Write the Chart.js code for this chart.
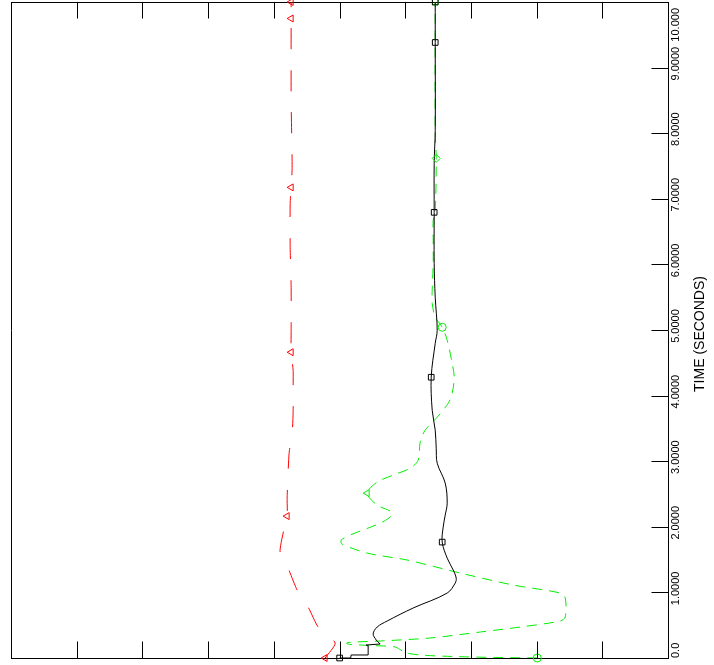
<!DOCTYPE html>
<html>
<head>
<meta charset="utf-8">
<script src="https://cdn.jsdelivr.net/npm/chart.js@4"></script>
<style>
  html, body { margin: 0; padding: 0; background: #fff; }
  canvas { display: block; }
</style>
</head>
<body>
<canvas id="chart" width="714" height="665"></canvas>
<script>
// ── Eixos ─────────────────────────────────────────────────────
const timeTicks      = [0, 1, 2, 3, 4, 5, 6, 7, 8, 9, 10];
const timeTickLabels = ['0.0', '1.0000', '2.0000', '3.0000', '4.0000', '5.0000',
                        '6.0000', '7.0000', '8.0000', '9.0000', '10.000'];
const valueTicks     = [1, 2, 3, 4, 5, 6, 7, 8, 9];
const axisTitle      = 'TIME (SECONDS)';

// ── Série preta (linha contínua): degraus iniciais + curva ────
const blackStepTime  = [0, 0, 0.046, 0.046, 0.183, 0.198, 0.213, 0.274];
const blackStepValue = [5.002, 5.170, 5.177, 5.436, 5.436, 5.406, 5.619, 5.558];
const blackTime  = [0.274, 0.366, 0.472, 0.564, 0.762, 0.990, 1.142, 1.219, 1.340, 1.523, 1.767,
                    1.995, 2.178, 2.361, 2.666, 2.970, 3.199, 3.473, 3.778, 4.280, 4.798, 4.996,
                    5.499, 6.017, 6.794, 7.540, 8.043, 9.383, 10.0];
const blackValue = [5.558, 5.512, 5.573, 5.726, 6.121, 6.639, 6.761, 6.776, 6.731, 6.639, 6.563,
                    6.578, 6.609, 6.639, 6.609, 6.487, 6.472, 6.457, 6.411, 6.396, 6.457, 6.487,
                    6.457, 6.441, 6.441, 6.441, 6.457, 6.457, 6.457];
const blackMarkTime  = [0, 1.767, 4.280, 6.794, 9.383, 10.0];
const blackMarkValue = [5.002, 6.563, 6.396, 6.441, 6.457, 6.457];

// ── Série verde (tracejado curto) ─────────────────────────────
const greenTime  = [0, 0.008, 0.023, 0.046, 0.084, 0.168, 0.190, 0.213, 0.236, 0.259, 0.305, 0.396,
                    0.472, 0.564, 0.625, 0.914, 0.990, 1.112, 1.295, 1.493, 1.599, 1.736, 1.797,
                    1.874, 2.056, 2.178, 2.239, 2.331, 2.513, 2.681, 2.788, 2.894, 3.016, 3.290,
                    3.473, 3.671, 3.884, 4.037, 4.280, 4.493, 4.844, 5.042, 5.194, 5.408, 5.606,
                    6.017, 6.367, 6.672, 6.794, 7.616, 8.043, 10.0];
const greenValue = [8.010, 7.370, 6.731, 6.228, 6.000, 5.847, 5.467, 5.117, 5.117, 5.619, 6.380, 7.142,
                    7.751, 8.360, 8.436, 8.436, 8.360, 7.644, 6.837, 6.030, 5.421, 5.040, 5.025,
                    5.162, 5.619, 5.802, 5.771, 5.573, 5.421, 5.573, 5.817, 6.076, 6.198, 6.228,
                    6.304, 6.487, 6.655, 6.715, 6.746, 6.715, 6.639, 6.563, 6.457, 6.411, 6.411,
                    6.426, 6.426, 6.426, 6.457, 6.472, 6.457, 6.457];
const greenMarkTime  = [0, 2.513, 5.042, 7.616, 10.0];
const greenMarkValue = [8.010, 5.421, 6.563, 6.472, 6.457];
const greenMarkStyle = ['circle', 'triangle', 'circle', 'rectRot', 'rect'];
const greenMarkRot   = [0, -90, 0, 0, 0];

// ── Série vermelha (tracejado longo) ──────────────────────────
const redTime  = [0, 0.228, 0.472, 0.777, 1.036, 1.371, 1.615, 1.904, 2.163, 2.452, 3.123, 3.427,
                  3.732, 4.082, 4.387, 4.661, 4.996, 5.651, 6.260, 6.931, 7.174, 7.479, 8.500,
                  9.749, 10.0];
const redValue = [4.781, 4.934, 4.675, 4.523, 4.355, 4.218, 4.096, 4.142, 4.203, 4.203, 4.233, 4.279,
                  4.294, 4.294, 4.294, 4.264, 4.264, 4.264, 4.249, 4.249, 4.264, 4.279, 4.264,
                  4.264, 4.264];
const redMarkTime  = [0, 2.163, 4.661, 7.174, 9.749, 10.0];
const redMarkValue = [4.781, 4.203, 4.264, 4.264, 4.264, 4.264];

const TICK_LEN = 16.5;

function toPoints(times, values) {
  return times.map((t, i) => ({ x: values[i], y: t }));
}

function lineSet(times, values, color, dash, tension) {
  return {
    data: toPoints(times, values), showLine: true, borderColor: color, borderWidth: 1,
    borderDash: dash, pointRadius: 0, tension: tension || 0, fill: false
  };
}

function markSet(times, values, color, style, rot, fillColor) {
  return {
    data: toPoints(times, values), showLine: false, clip: false,
    pointStyle: style, pointRotation: rot, pointRadius: 4,
    pointBorderColor: color, pointBackgroundColor: fillColor || 'rgba(0,0,0,0)', pointBorderWidth: 1
  };
}

// ── Marcas internas, rótulos girados e título do eixo ─────────
const axisDecor = {
  id: 'axisDecor',
  afterDraw(chart) {
    const { ctx, chartArea: a, scales: { x, y } } = chart;
    ctx.save();
    ctx.strokeStyle = '#000';
    ctx.lineWidth = 1;
    ctx.beginPath();
    valueTicks.forEach(v => {
      const px = Math.round(x.getPixelForValue(v)) + 0.5;
      ctx.moveTo(px, a.bottom); ctx.lineTo(px, a.bottom - TICK_LEN);
      ctx.moveTo(px, a.top);    ctx.lineTo(px, a.top + TICK_LEN);
    });
    timeTicks.slice(1, -1).forEach(t => {
      const py = Math.round(y.getPixelForValue(t)) + 0.5;
      ctx.moveTo(a.right, py); ctx.lineTo(a.right - TICK_LEN, py);
    });
    ctx.stroke();

    ctx.fillStyle = '#000';
    ctx.textBaseline = 'alphabetic';
    ctx.font = '11px "Liberation Sans", Arial, sans-serif';
    const last = timeTicks.length - 1;
    timeTicks.forEach((t, i) => {
      const py = y.getPixelForValue(t);
      ctx.save();
      ctx.translate(a.right + 10.5, py);
      ctx.rotate(-Math.PI / 2);
      if (i === 0)         { ctx.textAlign = 'left';   ctx.fillText(timeTickLabels[i], 0, 0); }
      else if (i === last) { ctx.textAlign = 'right';  ctx.fillText(timeTickLabels[i], py - 8, 0); }
      else                 { ctx.textAlign = 'center'; ctx.fillText(timeTickLabels[i], 4, 0); }
      ctx.restore();
    });

    ctx.font = '14px "Liberation Sans", Arial, sans-serif';
    ctx.translate(704, (a.top + a.bottom) / 2 + 4);
    ctx.rotate(-Math.PI / 2);
    ctx.textAlign = 'center';
    ctx.fillText(axisTitle, 0, 0);
    ctx.restore();
  }
};

const frameAxis = (pos) => ({
  type: 'linear', position: pos, min: 0, max: 10,
  ticks: { display: false }, grid: { display: false, drawTicks: false, tickLength: 0 },
  border: { display: true, color: '#000', width: 1 }
});

new Chart(document.getElementById('chart'), {
  type: 'scatter',
  data: {
    datasets: [
      markSet(blackMarkTime, blackMarkValue, '#000000', 'rect', 0),
      markSet(greenMarkTime, greenMarkValue, '#00ee00', greenMarkStyle, greenMarkRot),
      markSet(redMarkTime, redMarkValue, '#ff0000', 'triangle', -90),
      lineSet(blackStepTime, blackStepValue, '#000000', []),
      lineSet(blackTime, blackValue, '#000000', [], 0.35),
      lineSet(redTime, redValue, '#ff0000', [21, 21], 0.2),
      lineSet(greenTime, greenValue, '#00ee00', [10, 7], 0.3)
    ]
  },
  options: {
    responsive: false,
    animation: false,
    layout: { autoPadding: false, padding: { left: 11, right: 46, top: 2, bottom: 7 } },
    plugins: { legend: { display: false }, tooltip: { enabled: false } },
    scales: {
      x:  frameAxis('bottom'),
      x2: frameAxis('top'),
      y:  frameAxis('right'),
      y2: frameAxis('left')
    }
  },
  plugins: [axisDecor]
});
</script>
</body>
</html>
